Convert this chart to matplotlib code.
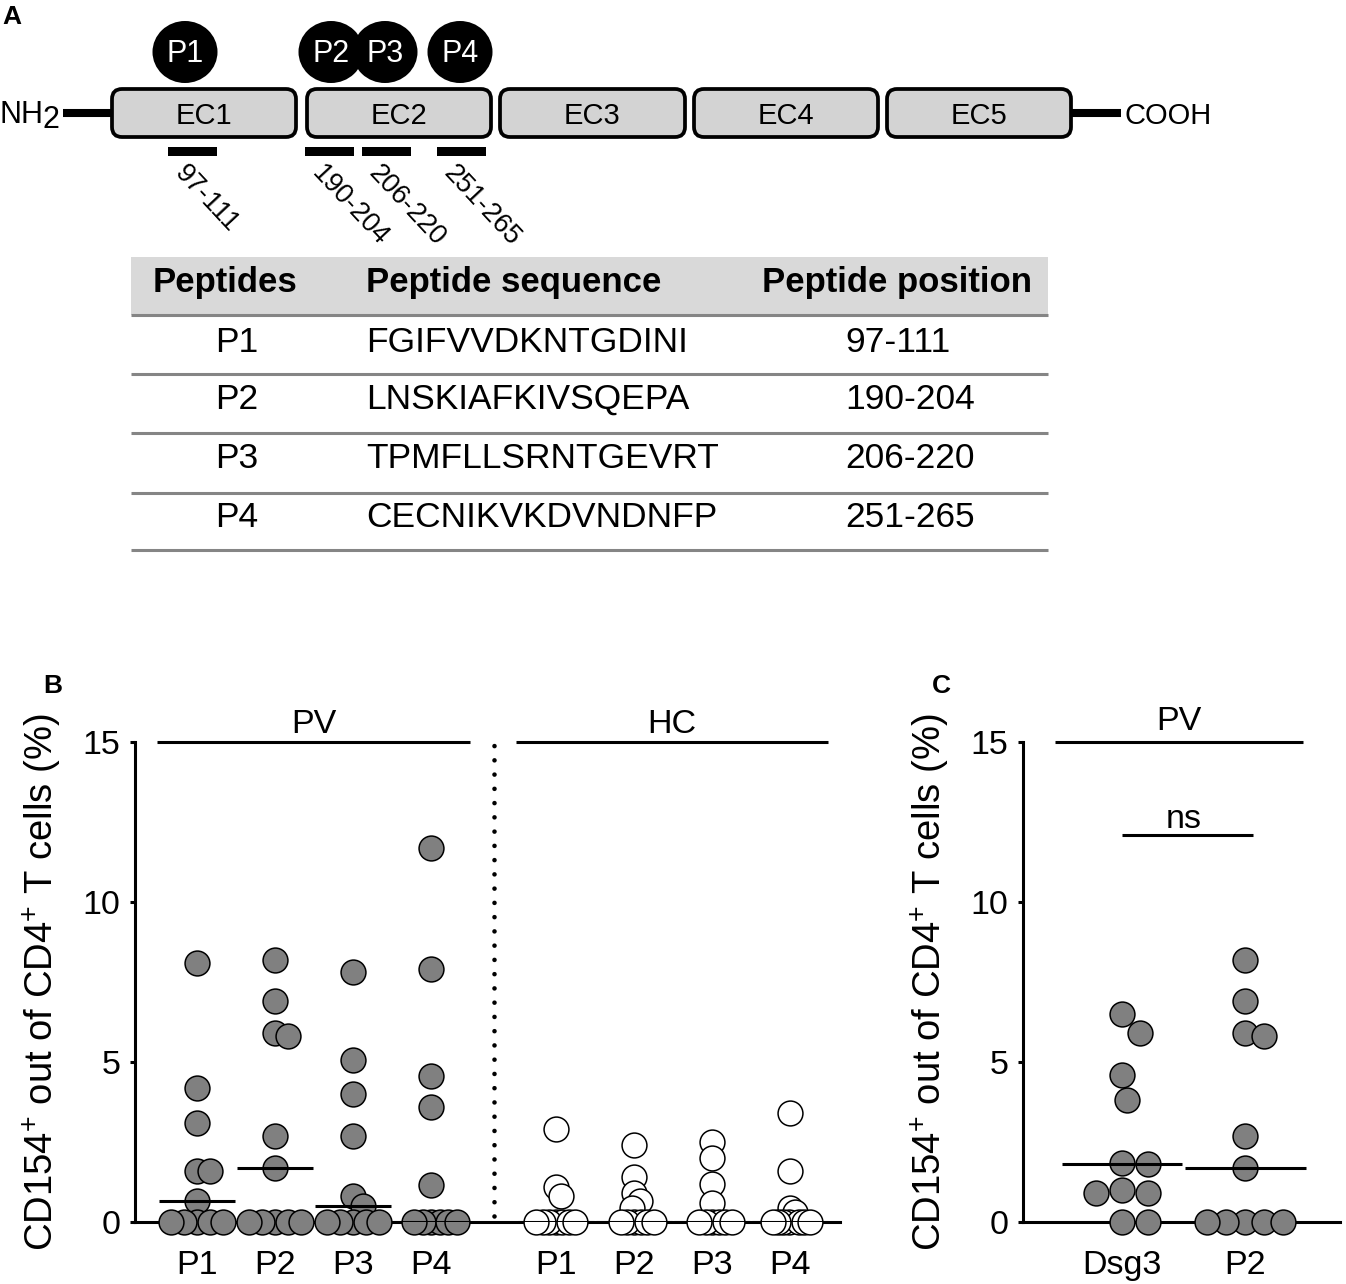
"""Dsg3 peptide map, peptide table and CD154+ T cell responses (panels A-C)."""

import matplotlib

matplotlib.use("Agg")
import matplotlib.pyplot as plt
import numpy as np
from matplotlib.patches import Ellipse, FancyBboxPatch, Rectangle

plt.rcParams["font.family"] = ["Liberation Sans", "DejaVu Sans"]
plt.rcParams["mathtext.fontset"] = "custom"
plt.rcParams["mathtext.rm"] = "Liberation Sans"
plt.rcParams["mathtext.it"] = "Liberation Sans:italic"
plt.rcParams["mathtext.bf"] = "Liberation Sans:bold"

# ---------------------------------------------------------------- data
domains = ["EC1", "EC2", "EC3", "EC4", "EC5"]
peptides = ["P1", "P2", "P3", "P4"]
sequences = ["FGIFVVDKNTGDINI", "LNSKIAFKIVSQEPA", "TPMFLLSRNTGEVRT", "CECNIKVKDVNDNFP"]
positions = ["97-111", "190-204", "206-220", "251-265"]
table_header = ["Peptides", "Peptide sequence", "Peptide position"]

# CD154+ out of CD4+ T cells (%), one value per donor
pv_p1 = [8.1, 4.2, 3.1, 1.6, 1.6, 0.65, 0, 0, 0, 0, 0]
pv_p2 = [8.2, 6.9, 5.9, 5.8, 2.7, 1.7, 0, 0, 0, 0, 0]
pv_p3 = [7.8, 5.05, 4.0, 2.7, 0.8, 0.5, 0, 0, 0, 0, 0]
pv_p4 = [11.7, 7.9, 4.55, 3.6, 1.15, 0, 0, 0, 0, 0, 0]
hc_p1 = [2.9, 1.1, 0.8, 0, 0, 0, 0, 0, 0, 0]
hc_p2 = [2.4, 1.4, 0.9, 0.65, 0.45, 0, 0, 0, 0, 0, 0]
hc_p3 = [2.5, 2.0, 1.2, 0.6, 0, 0, 0, 0, 0, 0]
hc_p4 = [3.4, 1.6, 0.45, 0.3, 0, 0, 0, 0, 0, 0, 0]
pv_dsg3 = [6.5, 5.9, 4.6, 3.8, 1.85, 1.8, 1.0, 0.9, 0.9, 0, 0]

panel_c_labels = ["Dsg3", "P2"]

# ---------------------------------------------------------------- layout
W, H = 1346, 1284
GRAY = "#808080"
LW = 2.2

fig = plt.figure(figsize=(W / 100, H / 100), dpi=100)


def px_axes(left, top, right, bottom):
    return fig.add_axes([left / W, 1 - bottom / H, (right - left) / W, (bottom - top) / H])


def swarm(values, px_x, px_y, min_dist, max_half):
    """Simple beeswarm: each point goes to the nearest free x offset."""
    vals = np.asarray(values, dtype=float)
    order = np.argsort(-vals, kind="stable")
    steps = np.arange(0.5, 200, 0.5)
    cands = np.concatenate([[0.0], np.ravel(np.column_stack([steps, -steps]))])
    placed = []
    offs = np.zeros(len(vals))
    for i in order:
        y = vals[i] * px_y
        for c in cands:
            if all(np.hypot(c - px, y - py) >= min_dist for px, py in placed):
                break
        placed.append((c, y))
        offs[i] = c
    offs = offs / px_x
    widest = np.abs(offs).max()
    if widest > max_half:
        offs *= max_half / widest
    return offs


# ---------------------------------------------------------------- panel A
canvas = fig.add_axes([0, 0, 1, 1])
canvas.set_xlim(0, W)
canvas.set_ylim(H, 0)
canvas.axis("off")

canvas.text(2, 24, "A", fontsize=19, fontweight="bold", va="baseline")
canvas.text(43, 693, "B", fontsize=19, fontweight="bold", va="baseline")
canvas.text(932, 693, "C", fontsize=19, fontweight="bold", va="baseline")

box_spans = [(110, 298), (305, 493), (498, 687), (692, 880), (885, 1073)]
canvas.plot([63, 112], [113, 113], color="black", lw=5.8, solid_capstyle="butt")
canvas.plot([1071, 1121], [113, 113], color="black", lw=5.8, solid_capstyle="butt")
for name, (x0, x1) in zip(domains, box_spans):
    canvas.add_patch(FancyBboxPatch((x0 + 2, 89), x1 - x0 - 4, 48,
                                    boxstyle="round,pad=0,rounding_size=10",
                                    facecolor="#d3d3d3", edgecolor="black", lw=2.7))
    canvas.text((x0 + x1) / 2, 124, name, fontsize=21, ha="center", va="baseline")
canvas.text(-1, 123, "NH", fontsize=22, ha="left", va="baseline")
canvas.text(42, 128, "2", fontsize=22, ha="left", va="baseline")
canvas.text(1125, 124, "COOH", fontsize=21, ha="left", va="baseline")

circle_x = [185, 331, 385, 460]
bar_spans = [(168, 217), (305, 354), (362, 411), (437, 486)]
for name, cx in zip(peptides, circle_x):
    canvas.add_patch(Ellipse((cx, 52), 65, 62, facecolor="black", edgecolor="none"))
    canvas.text(cx, 62, name, fontsize=22, color="white", ha="center", va="baseline")
for pos, (x0, x1) in zip(positions, bar_spans):
    canvas.add_patch(Rectangle((x0, 147), x1 - x0, 9, facecolor="black", edgecolor="none"))
    canvas.text((x0 + x1) / 2 - 4, 160, pos, fontsize=19.5, rotation=-47,
                rotation_mode="anchor", ha="left", va="top")

# peptide table
tab_l, tab_r = 131, 1048
canvas.add_patch(Rectangle((tab_l, 257), tab_r - tab_l, 58, facecolor="#d9d9d9", edgecolor="none"))
for yl in [315, 374, 433, 493, 550]:
    canvas.plot([tab_l, tab_r], [yl, yl], color="#858585", lw=2.2, solid_capstyle="butt")
canvas.text(225, 292, table_header[0], fontsize=25, fontweight="bold", ha="center", va="baseline")
canvas.text(366, 292, table_header[1], fontsize=25, fontweight="bold", ha="left", va="baseline")
canvas.text(897, 292, table_header[2], fontsize=25, fontweight="bold", ha="center", va="baseline")
for base, pep, seq, pos in zip([352, 409, 468, 527], peptides, sequences, positions):
    canvas.text(237, base, pep, fontsize=25.5, ha="center", va="baseline")
    canvas.text(366, base, seq, fontsize=25.5, ha="left", va="baseline")
    canvas.text(845, base, pos, fontsize=25.5, ha="left", va="baseline")

# ---------------------------------------------------------------- panels B, C
ylabel = "CD154$^{+}$ out of CD4$^{+}$ T cells (%)"


def style_axis(ax):
    for side in ("top", "right"):
        ax.spines[side].set_visible(False)
    for side in ("left", "bottom"):
        ax.spines[side].set_linewidth(LW)
    ax.set_ylim(0, 15)
    ax.set_yticks([0, 5, 10, 15])
    ax.tick_params(axis="y", length=3.6, width=LW, labelsize=24.5, pad=7)
    ax.tick_params(axis="x", length=0, labelsize=24.5, pad=20)
    ax.set_ylabel(ylabel, fontsize=27.5, labelpad=13)
    ax.patch.set_alpha(0)


def draw_group(ax, x, values, px_x, min_dist, max_half, face):
    offs = swarm(values, px_x, 32.0, min_dist, max_half)
    ax.scatter(x + offs, values, s=320, facecolor=face, edgecolor="black",
               linewidths=1.1, zorder=3, clip_on=False)
    ax.hlines(np.median(values), x - 0.49, x + 0.49, color="black", lw=LW, zorder=4)


# panel B
axB = px_axes(135, 742, 840, 1222)
b_xlim = (-0.795, 8.24)
axB.set_xlim(*b_xlim)
style_axis(axB)
px_b = 705 / (b_xlim[1] - b_xlim[0])
pv_x = [0, 1, 2, 3]
hc_x = [4.6, 5.6, 6.6, 7.6]
for x, vals in zip(pv_x, [pv_p1, pv_p2, pv_p3, pv_p4]):
    draw_group(axB, x, vals, px_b, 15, 0.33, GRAY)
for x, vals in zip(hc_x, [hc_p1, hc_p2, hc_p3, hc_p4]):
    draw_group(axB, x, vals, px_b, 15, 0.25, "white")
axB.set_xticks(pv_x + hc_x, peptides + peptides)
axB.plot([3.8, 3.8], [0.2, 15], color="black", lw=3.3, linestyle=(0, (0.01, 3.1)),
         dash_capstyle="round", clip_on=False)
for x0, x1, name in [(-0.51, 3.5, "PV"), (4.09, 8.09, "HC")]:
    axB.plot([x0, x1], [15, 15], color="black", lw=LW, clip_on=False, solid_capstyle="butt")
    axB.annotate(name, xy=((x0 + x1) / 2, 15), xytext=(0, 6.5), textcoords="offset points",
                 ha="center", va="baseline", fontsize=24.5)

# panel C
axC = px_axes(1023, 742, 1340, 1222)
c_xlim = (-0.805, 1.77)
axC.set_xlim(*c_xlim)
style_axis(axC)
px_c = 317 / (c_xlim[1] - c_xlim[0])
draw_group(axC, 0, pv_dsg3, px_c, 26, 0.32, GRAY)
draw_group(axC, 1, pv_p2, px_c, 19, 0.32, GRAY)
axC.set_xticks([0, 1], panel_c_labels)
axC.plot([-0.545, 1.47], [15, 15], color="black", lw=LW, clip_on=False, solid_capstyle="butt")
axC.annotate("PV", xy=(0.46, 15), xytext=(0, 9), textcoords="offset points",
             ha="center", va="baseline", fontsize=24.5)
axC.plot([0.0, 1.065], [12.1, 12.1], color="black", lw=LW, solid_capstyle="butt")
axC.annotate("ns", xy=(0.5, 12.1), xytext=(0, 5), textcoords="offset points",
             ha="center", va="baseline", fontsize=24.5)

fig.savefig("out.png", dpi=100)
